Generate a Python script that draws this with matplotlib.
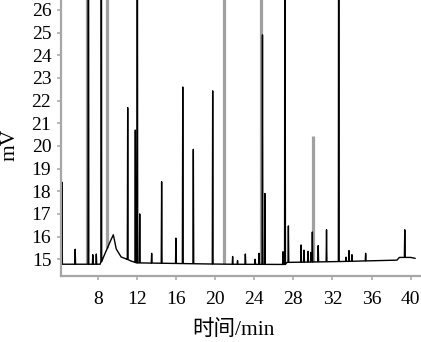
import matplotlib
matplotlib.use("Agg")
import matplotlib.pyplot as plt
import numpy as np

plt.rcParams['font.family'] = ['Liberation Serif', 'Noto Sans CJK SC']

fig_width_pixels = 421
fig_height_pixels = 342
dpi = 100

# baseline of the chromatogram (time in min, signal in mV), incl. the broad hump
base_t = [4.25, 8.25, 8.6, 9.0, 9.3, 9.6, 9.9, 10.4, 11.0, 11.3, 12.0,
          21.0, 27.2, 27.35, 33.0, 38.6, 38.85, 40.0, 40.45]
base_v = [14.78, 14.78, 15.1, 15.5, 15.8, 16.08, 15.45, 15.1, 15.0, 14.94, 14.84,
          14.78, 14.77, 14.86, 14.9, 14.96, 15.08, 15.08, 15.04]

# black peaks (retention time, apex); values above 26.4 run off the top
black_t = [4.35, 5.7, 7.05, 7.5, 7.86, 8.37, 11.07, 11.85, 12.05, 12.3,
           13.52, 14.54, 16.0, 16.7, 17.78, 19.76, 21.8, 22.3, 23.1, 24.1,
           24.5, 24.85, 25.1, 26.95, 27.15, 27.5, 28.8, 29.1, 29.5, 29.8,
           29.95, 30.55, 31.4, 32.65, 33.4, 33.7, 34.0, 35.4, 39.4]
black_h = [18.4, 15.44, 40, 15.2, 15.23, 40, 21.69, 20.7, 40, 17.0,
           15.26, 18.42, 15.93, 22.6, 19.85, 22.43, 15.12, 14.94, 15.23, 15.0,
           15.26, 24.9, 17.9, 15.33, 40, 16.47, 15.63, 15.4, 15.35, 15.3,
           16.2, 15.6, 16.3, 40, 15.09, 15.38, 15.2, 15.26, 16.3]

# gray peaks (second trace)
gray_t = [6.95, 9.0, 11.9, 20.9, 24.75, 30.05]
gray_h = [40, 40, 18.5, 40, 40, 20.44]

y_ticks = list(range(15, 27))
x_ticks = list(range(8, 41, 4))

fig = plt.figure(figsize=(fig_width_pixels / dpi, fig_height_pixels / dpi), dpi=dpi)
ax = fig.add_axes([61 / 421, 1 - 276 / 342, 360 / 421, 276 / 342])

# Build the black trace: baseline plus narrow spikes
w = 0.04
pts = list(zip(base_t, base_v))
for t, h in zip(black_t, black_h):
    b = np.interp(t, base_t, base_v)
    pts += [(t - w, b), (t, h), (t + w, b)]
pts.sort(key=lambda p: p[0])
tx = [p[0] for p in pts]
ty = [p[1] for p in pts]

# gray peaks drawn first, underneath
gray_base = np.interp(gray_t, base_t, base_v)
ax.vlines(gray_t, gray_base, gray_h, color='#a0a0a0', lw=2.3, zorder=1)
ax.plot(tx, ty, color='black', lw=1.0, zorder=2)

ax.set_xlim(4.25, 41.06)
ax.set_ylim(14.26, 26.44)
ax.set_xticks(x_ticks)
ax.set_yticks(y_ticks)

for s in ['top', 'right']:
    ax.spines[s].set_visible(False)
for s in ['left', 'bottom']:
    ax.spines[s].set_color('#a6a6a6')
    ax.spines[s].set_linewidth(1.6)

ax.tick_params(axis='both', direction='out', length=3, width=1.1,
               color='#a6a6a6', labelsize=14, labelcolor='black')
ax.tick_params(axis='y', pad=4)
ax.tick_params(axis='x', pad=8)

fig.text(10 / 421, 1 - 145 / 342, 'mV', rotation=90, ha='center', va='center',
         fontsize=15.5)
fig.text(233 / 421, 1 - 330 / 342, '时间/min', ha='center', va='center',
         fontsize=15.5)

plt.savefig('out.png', dpi=dpi)
plt.close()
